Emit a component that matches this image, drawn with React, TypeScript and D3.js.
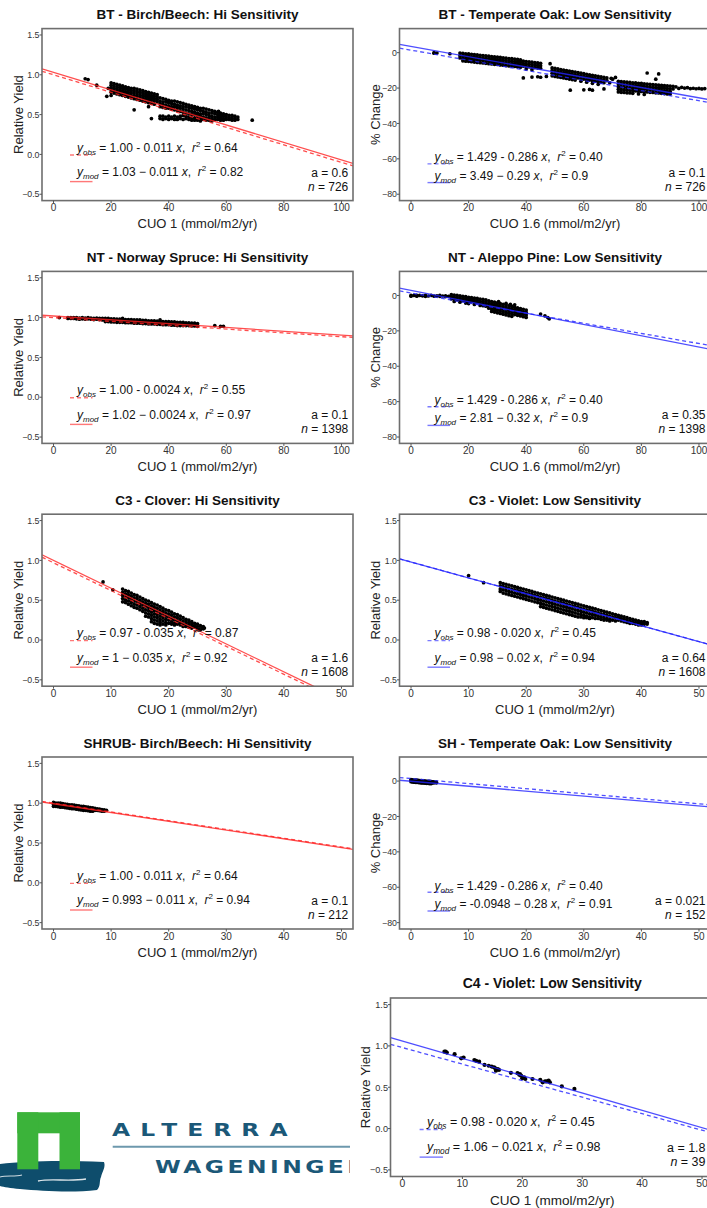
import * as d3 from "d3";
import {useEffect, useRef} from "react";

const WIDTH = 707;
const HEIGHT = 1208;
const FONT = "'Liberation Sans', Arial, Helvetica, sans-serif";
const RED = "#ff2020";
const BLUE = "#2222ff";

// one entry per panel, reading order (left/right, top to bottom)
const titles = [
    "BT - Birch/Beech: Hi Sensitivity",
    "BT - Temperate Oak: Low Sensitivity",
    "NT - Norway Spruce: Hi Sensitivity",
    "NT - Aleppo Pine: Low Sensitivity",
    "C3 - Clover: Hi Sensitivity",
    "C3 - Violet: Low Sensitivity",
    "SHRUB- Birch/Beech: Hi Sensitivity",
    "SH - Temperate Oak: Low Sensitivity",
    "C4 - Violet: Low Sensitivity",
];
const kinds = ["yield", "pct", "yield", "pct", "yield", "yield", "yield", "pct", "yield"];
const lineColors = ["red", "blue", "red", "blue", "red", "blue", "red", "blue", "blue"];
const xMax = [100, 100, 100, 100, 50, 50, 50, 50, 50];

const obsA = [1.00, 1.429, 1.00, 1.429, 0.97, 0.98, 1.00, 1.429, 0.98];
const obsB = [-0.011, -0.286, -0.0024, -0.286, -0.035, -0.020, -0.011, -0.286, -0.020];
const modA = [1.03, 3.49, 1.02, 2.81, 1.0, 0.98, 0.993, -0.0948, 1.06];
const modB = [-0.011, -0.29, -0.0024, -0.32, -0.035, -0.02, -0.011, -0.28, -0.021];

const obsLabel = ["1.00 - 0.011", "1.429 - 0.286", "1.00 - 0.0024", "1.429 - 0.286", "0.97 - 0.035",
    "0.98 - 0.020", "1.00 - 0.011", "1.429 - 0.286", "0.98 - 0.020"];
const modLabel = ["1.03 \u2212 0.011", "3.49 \u2212 0.29", "1.02 \u2212 0.0024", "2.81 \u2212 0.32", "1 \u2212 0.035",
    "0.98 \u2212 0.02", "0.993 \u2212 0.011", "-0.0948 \u2212 0.28", "1.06 \u2212 0.021"];
const r2Obs = ["0.64", "0.40", "0.55", "0.40", "0.87", "0.45", "0.64", "0.40", "0.45"];
const r2Mod = ["0.82", "0.9", "0.97", "0.9", "0.92", "0.94", "0.94", "0.91", "0.98"];
const aLabel = ["0.6", "0.1", "0.1", "0.35", "1.6", "0.64", "0.1", "0.021", "1.8"];
const nLabel = ["726", "726", "1398", "1398", "1608", "1608", "212", "152", "39"];

const yieldTicks = [-0.5, 0, 0.5, 1, 1.5];
const pctTicks = [-80, -60, -40, -20, 0];
const xTicks100 = [0, 20, 40, 60, 80, 100];
const xTicks50 = [0, 10, 20, 30, 40, 50];

// scatter clouds: "x:y,y,y;x:y..."
const cloudBirchBT =
    "11:.95;12:.94;15:.87;19:.83;18.5:.73;28:.56;33:.60;34:.45;39.5:.66;57.3:.54;69:.43;" +
    "20:.90,.87,.84,.81,.78,.74;21:.89,.86,.83,.80,.77;22:.88,.85,.82,.79,.76;23:.87,.84,.81,.78,.75;" +
    "24:.86,.83,.80,.77,.74;25:.85,.82,.79,.76,.73;26:.84,.81,.78,.75,.72;27:.83,.80,.77,.74,.71;" +
    "28:.83,.80,.77,.74,.70;29:.82,.79,.76,.73,.69;30:.81,.78,.75,.72,.68;31:.80,.77,.74,.71,.67;" +
    "32:.79,.76,.73,.70,.66;33:.78,.75,.72,.69,.65;34:.77,.74,.71,.68,.64;35:.76,.73,.70,.67,.63;36:.75,.72,.69,.66;" +
    "37:.71,.67,.64,.60,.48,.45;38:.70,.66,.63,.59,.48,.44;39:.69,.66,.62,.58,.47,.45;40:.68,.65,.61,.58,.48,.44;" +
    "41:.67,.64,.60,.57,.47,.45;42:.67,.63,.60,.56,.48,.44;43:.66,.62,.59,.55,.47,.44;44:.65,.61,.58,.54,.48,.45;" +
    "45:.64,.60,.57,.53,.49,.44;46:.63,.60,.56,.52,.48,.45;47:.62,.59,.55,.51,.47,.44;48:.61,.58,.54,.50,.46,.43;" +
    "49:.60,.57,.53,.50,.46,.43;50:.59,.56,.52,.49,.45,.43;51:.58,.55,.51,.48,.45,.42;52:.58,.54,.51,.47,.44;" +
    "53:.57,.53,.50,.46,.43;54:.56,.52,.49,.46,.43;55:.55,.52,.48,.45,.42;56:.54,.51,.47,.44;57:.53,.50,.47,.44;" +
    "58:.52,.49,.46,.43;59:.51,.48,.45,.43;60:.50,.47,.44;61:.49,.46,.44;62:.49,.46,.43;63:.48,.45,.43;64:.47,.44";

const cloudOakBT =
    "8:0,-0.3;9:-0.2;13.5:-0.6;39:-14.3;42:-13.8;44:-13.6;45:-13.9;47:-13.4;48.3:-6.2;55.3:-21.2;60:-21;" +
    "62:-20.8;63:-21.2;67:-20.5;69:-17;82:-11.5;85:-15;86:-12;69.5:-14.5;70:-15;71:-14;" +
    "17:-0.2,-1.6,-3.0;18:-0.4,-1.8,-3.2,-4.6;19:-0.6,-2.0,-3.4,-4.8;20:-0.7,-2.1,-3.5,-4.9;21:-0.9,-2.3,-3.7,-5.1;" +
    "22:-1.1,-2.5,-3.9,-5.3;23:-1.3,-2.7,-4.1,-5.5;24:-1.5,-2.9,-4.3,-5.7;25:-1.6,-3.0,-4.4,-5.8;" +
    "26:-1.8,-3.2,-4.6,-6.0;27:-2.0,-3.4,-4.8,-6.2;28:-2.2,-3.6,-5.0,-6.4;29:-2.4,-3.8,-5.2,-6.6;" +
    "30:-2.5,-3.9,-5.3,-6.7;31:-2.7,-4.1,-5.5,-6.9;32:-2.9,-4.3,-5.7,-7.1;33:-3.1,-4.5,-5.9,-7.3;" +
    "34:-3.3,-4.7,-6.1,-7.5;35:-3.4,-4.8,-6.2,-7.6;36:-3.6,-5.0,-6.4,-7.8;37:-3.8,-5.2,-6.6,-8.0;" +
    "38:-4.0,-5.4,-6.8,-8.2;39:-4.8,-6.2,-7.6;40:-5.0,-6.4,-7.8,-9.2;41:-5.2,-6.6,-8.0;42:-5.4,-6.8,-8.2,-9.6;" +
    "43:-5.6,-7.0,-8.4;44:-5.8,-7.2,-8.6;45:-6.0,-7.4,-8.8;" +
    "49:-8.6,-10.1,-11.6,-13.1;50:-8.9,-10.4,-11.9,-13.4;51:-9.2,-10.7,-12.2,-13.7;52:-9.5,-11.0,-12.5,-14.0;" +
    "53:-9.8,-11.3,-12.8,-14.3;54:-10.1,-11.6,-13.1,-14.6;55:-10.4,-11.9,-13.4,-14.9;56:-10.7,-12.2,-13.7,-15.2;" +
    "57:-11.0,-12.5,-14.0,-15.5;58:-11.3,-12.8,-14.3;59:-11.6,-13.1,-14.6,-16.1;60:-11.9,-13.4,-14.9;" +
    "61:-12.2,-13.7,-15.2,-16.7;62:-12.5,-14.0,-15.5;63:-12.8,-14.3,-15.8,-17.3;64:-13.1,-14.6,-16.1;" +
    "65:-13.4,-14.9,-16.4,-17.9;66:-13.7,-15.2,-16.7;67:-14.0,-15.5,-17.0;68:-14.3,-15.8;" +
    "72:-16.2,-17.7,-19.2,-20.7,-22.2;73:-16.4,-17.9,-19.4,-20.9,-22.4;74:-16.5,-18.0,-19.5,-21.0,-22.5;" +
    "75:-16.7,-18.2,-19.7,-21.2,-22.7;76:-16.8,-18.3,-19.8,-21.3,-22.8;77:-17.0,-18.5,-20.0,-21.5,-23.0;" +
    "78:-17.1,-18.6,-20.1,-21.6;79:-17.3,-18.8,-20.3,-21.8,-23.3;80:-17.4,-18.9,-20.4,-21.9;" +
    "81:-17.6,-19.1,-20.6,-22.1,-23.6;82:-17.7,-19.2,-20.7,-22.2;83:-17.9,-19.4,-20.9,-22.4;" +
    "84:-18.0,-19.5,-21.0,-22.5;85:-18.2,-19.7,-21.2,-22.7;86:-18.3,-19.8,-21.3,-22.8;87:-18.5,-20.0,-21.5,-23.0;" +
    "88:-18.6,-20.1,-21.6,-23.1;89:-18.8,-20.3,-21.8,-23.3;90:-18.9,-20.4,-21.9,-23.4;91:-19.0,-20.5;" +
    "92:-19.3;93:-20.2;94:-19.6;95:-20.0;96:-19.8;97:-20.3;98:-20.1;99:-20.4;100:-20.2;101:-20.5;102:-20.3";

const cloudSpruceNT =
    "2:1.00;5:1.00,.99;6:1.00,.99;7:1.00,.99;8:1.00,.985;9:.995,.98;10:1.00,.985;11:.995,.98;12:1.00,.985;" +
    "13:.995,.98;14:.99,.975;15:.995,.98;16:.99,.975;17:.99,.97;18:.99,.97,.95;19:.99,.97,.95;20:.985,.965,.945;" +
    "21:.985,.965,.945;22:.98,.96,.94;23:.98,.96,.94;24:.98,.96,.94,.99;25:.975,.955,.935;26:.975,.955,.935;" +
    "27:.975,.955,.935;28:.97,.95,.93;29:.97,.95,.93;30:.97,.95,.93;31:.965,.945,.925;32:.965,.945,.925;" +
    "33:.96,.94,.92;34:.96,.94,.92;35:.96,.94,.92;36:.955,.935,.915;37:.955,.935,.915,.97;38:.95,.93,.91;" +
    "39:.95,.93,.91;40:.95,.93,.91;41:.945,.925,.905;42:.945,.925,.905;43:.94,.92,.90;44:.94,.92,.90;" +
    "45:.94,.92,.90;46:.935,.915,.90;47:.935,.915,.90;48:.93,.91,.895;49:.93,.91,.895;50:.925,.905,.89;" +
    "56:.90;58:.89;59:.89";

const cloudPineNT =
    "0:0,-0.4;1:0;2:0,-0.4;3:0;4:-0.2;5:0,-0.5;6:-0.3;7:0;8:-0.4;9:-0.2;10:0,-0.5;11:-0.3;12:-0.2,-0.6;13:-0.5;" +
    "14:0.5,-0.7,-1.9;15:0.2,-1.0,-2.2,-3.4;16:0,-1.2,-2.4;17:-0.2,-1.4,-2.6,-3.8;18:-0.5,-1.7,-2.9;" +
    "19:-0.7,-1.9,-3.1,-4.3;20:-1.0,-2.2,-3.4,-4.6;21:-1.2,-2.4,-3.6;22:-1.5,-2.7,-3.9,-5.1;23:-1.7,-2.9,-4.1;" +
    "24:-2.0,-3.2,-4.4,-5.6;25:-2.2,-3.4,-4.6,-5.8;26:-2.5,-3.7,-4.9,-6.1;27:-3.0,-4.4,-5.8,-7.2;" +
    "28:-3.4,-4.8,-6.2,-7.6,-9.0;29:-3.8,-5.2,-6.6,-8.0,-9.4;30:-4.2,-5.6,-7.0,-8.4,-9.8;" +
    "31:-4.6,-6.0,-7.4,-8.8,-10.2;32:-5.0,-6.4,-7.8,-9.2,-10.6;33:-5.4,-6.8,-8.2,-9.6,-11.0;" +
    "34:-5.8,-7.2,-8.6,-10.0,-11.4;35:-6.2,-7.6,-9.0,-10.4,-11.8;36:-6.6,-8.0,-9.4,-10.8;37:-7.0,-8.4,-9.8,-11.2;" +
    "38:-7.4,-8.8,-10.2,-11.6;39:-7.8,-9.2,-10.6,-12.0;40:-8.2,-9.6,-11.0,-12.4;" +
    "30.4:-3.4;33:-4.5;34.5:-5.0;36:-5.3;45:-10.5;46.5:-11.5;47.5:-12.5;48:-13.2";

const cloudCloverC3 =
    "8.6:.73;10.3:.63;" +
    "12:.64,.60,.56,.52,.48;12.5:.62,.58,.54,.50,.47;13:.61,.57,.53,.49,.45;13.5:.59,.55,.51,.47,.43;" +
    "14:.57,.53,.49,.45,.41;14.5:.56,.52,.48,.44,.40;15:.54,.50,.46,.42,.38;15.5:.52,.48,.44,.40,.36;" +
    "16:.50,.46,.42,.38,.34,.30;16.5:.49,.45,.41,.37,.33,.29;17:.47,.43,.39,.35,.31,.27,.23;" +
    "17.5:.45,.41,.37,.33,.29,.25,.21;18:.44,.40,.36,.32,.28,.24,.20;18.5:.42,.38,.34,.30,.26,.22,.19;" +
    "19:.40,.36,.32,.28,.24,.20;19.5:.38,.34,.30,.26,.22,.19;20:.37,.33,.29,.25,.21;20.5:.35,.31,.27,.23,.20;" +
    "21:.33,.29,.25,.21,.19;21.5:.32,.28,.24,.20;22:.30,.26,.22,.19;22.5:.28,.24,.20,.17;23:.26,.23,.20,.17;" +
    "23.5:.25,.22,.19,.16;24:.23,.20,.17,.15;24.5:.21,.18,.16;25:.20,.17,.14;25.5:.18,.15,.13;26:.17,.14;26.2:.15";

const cloudVioletC3 =
    "10:.81;12.6:.72;" +
    "15.5:.72,.68,.64,.61;16:.71,.67,.63,.59;16.5:.70,.66,.62,.58;17:.69,.65,.61,.57;17.5:.68,.64,.60,.56;" +
    "18:.67,.63,.59,.55;18.5:.66,.62,.58,.54;19:.65,.61,.57,.53;19.5:.64,.60,.56,.52;20:.63,.59,.55,.51;" +
    "20.5:.62,.58,.54,.50;21:.61,.57,.53,.49;21.5:.60,.56,.52,.48;22:.59,.55,.51,.47;22.5:.58,.54,.50,.46,.42;" +
    "23:.57,.53,.49,.45,.41;23.5:.56,.52,.48,.44,.40;24:.55,.51,.47,.43,.39;24.5:.54,.50,.46,.42,.38;" +
    "25:.53,.49,.45,.41,.37;25.5:.52,.48,.44,.40,.36;26:.51,.47,.43,.39,.35;26.5:.50,.46,.42,.38,.34;" +
    "27:.49,.45,.41,.37,.33;27.5:.48,.44,.40,.36,.32;28:.47,.43,.39,.35,.31;28.5:.46,.42,.38,.34,.30;" +
    "29:.45,.41,.37,.33,.29;29.5:.44,.40,.36,.32,.29;30:.43,.39,.35,.31,.28;30.5:.42,.38,.34,.30,.28;" +
    "31:.41,.37,.33,.29,.27;31.5:.40,.36,.32,.28;32:.39,.35,.31,.27;32.5:.38,.34,.30,.27;33:.37,.33,.29,.26;" +
    "33.5:.36,.32,.28,.25;34:.35,.31,.27,.25;34.5:.34,.30,.26,.24;35:.33,.29,.25;35.5:.32,.28,.24;" +
    "36:.31,.28,.25;36.5:.30,.27,.24;37:.29,.26,.23;37.5:.28,.25,.22;38:.27,.24,.21;38.5:.26,.23,.21;" +
    "39:.25,.22,.20;39.5:.24,.21,.19;40:.23,.21,.19;40.5:.23,.20;41:.22,.20";

const cloudBirchSH =
    "0:1.01,.985,.96;0.4:1.00,.98,.96;0.8:1.00,.975,.955;1.2:1.00,.975,.95;1.6:.995,.97,.95;2:.99,.965,.945;" +
    "2.4:.985,.96,.94;2.8:.98,.96,.935;3.2:.98,.955,.93;3.6:.975,.95,.93;4:.97,.945,.925;4.4:.965,.94,.92;" +
    "4.8:.96,.94,.915;5.2:.96,.935,.91;5.6:.955,.93,.91;6:.95,.925,.905;6.4:.945,.92,.90;6.8:.94,.915,.90;" +
    "7.2:.935,.91;7.6:.93,.91;8:.925,.905;8.4:.92,.90;8.8:.915,.90;9.2:.91";

const cloudOakSH =
    "0:.8,.2,-.4;0.25:.7,.1,-.5;0.5:.6,0,-.6;0.75:.5,-.1,-.7;1:.5,-.1,-.7;1.25:.4,-.2,-.8;1.5:.3,-.3,-.9;" +
    "1.75:.2,-.4,-1.0;2:.1,-.5,-1.1;2.25:.1,-.5,-1.1;2.5:0,-.6,-1.2;2.75:-.1,-.7,-1.3;3:-.2,-.8,-1.3;" +
    "3.25:-.2,-.8,-1.4;3.5:-.3,-.9,-1.4;3.75:-.4,-1.0;4:-.4,-1.0;4.4:-.6,-1.0";

const cloudVioletC4 =
    "7.0:.93;7.2:.93;7.4:.92;8.7:.90;9.8:.85;10.2:.86;12.0:.83;12.3:.82;12.8:.81;13.7:.77;14.4:.76;14.9:.75;" +
    "15.3:.74;15.5:.73;15.6:.70;15.9:.72;16.1:.71;18.1:.675;19.2:.67;19.5:.65;19.6:.66;19.8:.64;20.0:.61;" +
    "20.3:.62;20.5:.60;21.7:.60;23.0:.59;23.4:.56;23.8:.57;24.1:.57;24.4:.58;24.6:.56;26.6:.51;28.7:.48";

const clouds = [cloudBirchBT, cloudOakBT, cloudSpruceNT, cloudPineNT, cloudCloverC3,
    cloudVioletC3, cloudBirchSH, cloudOakSH, cloudVioletC4];

const parseCloud = (s: string): [number, number][] =>
    s.split(";").filter(Boolean).flatMap(seg => {
        const [x, ys] = seg.split(":");
        return ys.split(",").map(y => [+x, +y] as [number, number]);
    });

// frame of every panel; the C4 panel is a slightly larger picture
function panelBox(i: number) {
    if (i === 8) return {x: 390.5, y: 998, w: 323.5, h: 178.5, s: 1.04};
    const col = i % 2;
    const row = Math.floor(i / 2);
    return {x: col ? 399.5 : 42, y: 28.6 + row * 242.8, w: 311, h: 172, s: 1};
}

function drawPanel(svg: any, i: number) {
    const b = panelBox(i);
    const s = b.s;
    const pct = kinds[i] === "pct";
    const color = lineColors[i] === "red" ? RED : BLUE;
    const dom = [-xMax[i] * 0.04, xMax[i] * 1.04];

    const x = d3.scaleLinear().domain(dom).range([b.x, b.x + b.w]);
    const y = d3.scaleLinear().domain(pct ? [-83.6, 13.6] : [-0.58, 1.58]).range([b.y + b.h, b.y]);

    const g = svg.append("g").style("font-family", FONT);
    const clipId = `clip${i}`;
    g.append("clipPath").attr("id", clipId)
        .append("rect").attr("x", b.x).attr("y", b.y).attr("width", b.w).attr("height", b.h);
    const plot = g.append("g").attr("clip-path", `url(#${clipId})`);

    plot.selectAll("circle")
        .data(parseCloud(clouds[i]))
        .join("circle")
        .attr("cx", d => x(d[0]))
        .attr("cy", d => y(d[1]))
        .attr("r", i === 8 ? 2.1 : 1.85)
        .attr("fill", "#000");

    const line = d3.line<[number, number]>().x(d => x(d[0])).y(d => y(d[1]));
    const fit = (a: number, k: number) => dom.map(v => [v, a + k * v] as [number, number]);

    plot.append("path")
        .attr("d", line(fit(obsA[i], obsB[i])))
        .attr("fill", "none").attr("stroke", color).attr("stroke-width", 1.3)
        .attr("stroke-dasharray", "4,3").attr("opacity", 0.8);
    plot.append("path")
        .attr("d", line(fit(modA[i], modB[i])))
        .attr("fill", "none").attr("stroke", color).attr("stroke-width", 1.3).attr("opacity", 0.8);

    // frame
    g.append("rect")
        .attr("x", b.x).attr("y", b.y).attr("width", b.w).attr("height", b.h)
        .attr("fill", "none").attr("stroke", "#6e6e6e").attr("stroke-width", 1.6);

    // y axis
    const yTicks = pct ? pctTicks : yieldTicks;
    const yFmt = pct ? d3.format("d") : d3.format(".1f");
    yTicks.forEach(t => {
        g.append("line").attr("x1", b.x - 2.5).attr("x2", b.x).attr("y1", y(t)).attr("y2", y(t))
            .attr("stroke", "#555").attr("stroke-width", 1);
        g.append("text").attr("x", b.x - 2.5).attr("y", y(t) + 3.2 * s)
            .attr("text-anchor", "end").attr("font-size", 8.8 * s).attr("fill", "#333")
            .text(yFmt(t));
    });

    // x axis
    const xTicks = xMax[i] === 100 ? xTicks100 : xTicks50;
    xTicks.forEach(t => {
        g.append("line").attr("x1", x(t)).attr("x2", x(t)).attr("y1", b.y + b.h).attr("y2", b.y + b.h + 2.5)
            .attr("stroke", "#555").attr("stroke-width", 1);
        g.append("text").attr("x", x(t)).attr("y", b.y + b.h + 10.5 * s)
            .attr("text-anchor", "middle").attr("font-size", 10 * s).attr("fill", "#333")
            .text(t);
    });

    // titles
    g.append("text").attr("x", b.x + b.w / 2).attr("y", b.y - 9.3 * s)
        .attr("text-anchor", "middle").attr("font-size", 13.5 * s).attr("font-weight", "bold")
        .attr("fill", "#111").text(titles[i]);
    g.append("text").attr("x", b.x + b.w / 2).attr("y", b.y + b.h + 27.5 * s)
        .attr("text-anchor", "middle").attr("font-size", 13 * s).attr("fill", "#222")
        .text(pct ? "CUO 1.6 (mmol/m2/yr)" : "CUO 1 (mmol/m2/yr)");
    g.append("text")
        .attr("transform", `translate(${b.x - 19.5 * s},${b.y + b.h / 2}) rotate(-90)`)
        .attr("text-anchor", "middle").attr("font-size", 13 * s).attr("fill", "#222")
        .text(pct ? "% Change" : "Relative Yield");

    // legend
    const t1 = (pct ? 132.7 : 122.9) * s;
    const t2 = (pct ? 151 : 147.3) * s;
    const l1 = (pct ? 135.3 : 126.4) * s;
    const l2 = (pct ? 154 : 153) * s;
    const lx0 = b.x + 28 * s;
    const lx1 = b.x + 50.5 * s;
    g.append("line").attr("x1", lx0).attr("x2", lx1).attr("y1", b.y + l1).attr("y2", b.y + l1)
        .attr("stroke", color).attr("stroke-width", 1.4).attr("stroke-dasharray", "4,3").attr("opacity", 0.6);
    g.append("line").attr("x1", lx0).attr("x2", lx1).attr("y1", b.y + l2).attr("y2", b.y + l2)
        .attr("stroke", color).attr("stroke-width", 1.4).attr("opacity", 0.6);

    const eq = (ty: number, sub: string, body: string, r2: string) => {
        const t = g.append("text").attr("x", b.x + 35 * s).attr("y", b.y + ty)
            .attr("font-size", 12 * s).attr("fill", "#111").style("white-space", "pre");
        t.append("tspan").attr("font-style", "italic").text("y");
        t.append("tspan").attr("font-style", "italic").attr("font-size", 8 * s).attr("dy", 3 * s).text(sub);
        t.append("tspan").attr("dy", -3 * s).text(` = ${body} `);
        t.append("tspan").attr("font-style", "italic").text("x");
        t.append("tspan").text(",  ");
        t.append("tspan").attr("font-style", "italic").text("r");
        t.append("tspan").attr("font-size", 8 * s).attr("dy", -5 * s).text("2");
        t.append("tspan").attr("dy", 5 * s).text(` = ${r2}`);
    };
    eq(t1, "obs", obsLabel[i], r2Obs[i]);
    eq(t2, "mod", modLabel[i], r2Mod[i]);

    // keep the a / n notes inside the page
    const ax = Math.min(b.x + b.w - 4.7 * s, WIDTH - 1.5);
    g.append("text").attr("x", ax).attr("y", b.y + 148 * s).attr("text-anchor", "end")
        .attr("font-size", 12 * s).attr("fill", "#111").style("white-space", "pre")
        .text(`a = ${aLabel[i]}`);
    const nt = g.append("text").attr("x", ax).attr("y", b.y + 162 * s).attr("text-anchor", "end")
        .attr("font-size", 12 * s).attr("fill", "#111").style("white-space", "pre");
    nt.append("tspan").attr("font-style", "italic").text("n");
    nt.append("tspan").text(` = ${nLabel[i]}`);
}

function drawLogo(svg: any) {
    const g = svg.append("g");
    g.append("clipPath").attr("id", "logoClip")
        .append("rect").attr("x", 0).attr("y", 1090).attr("width", 350).attr("height", 118);
    const lg = g.append("g").attr("clip-path", "url(#logoClip)");

    // brush stroke
    lg.append("path")
        .attr("d", "M0,1164 C25,1161 60,1160 104,1162 C106,1167 102,1172 101,1177 C99,1181 101,1186 97,1190 " +
            "C72,1193 42,1191 20,1189 C10,1188 4,1187 0,1186 Z")
        .attr("fill", "#0e4d6c");
    lg.append("path").attr("d", "M38,1181 C52,1178 68,1182 86,1179")
        .attr("fill", "none").attr("stroke", "#fff").attr("stroke-width", 1.3).attr("opacity", 0.85);
    lg.append("path").attr("d", "M0,1177 C7,1175 14,1177 22,1175")
        .attr("fill", "none").attr("stroke", "#fff").attr("stroke-width", 1.2).attr("opacity", 0.8);

    // green gate
    const green = "#3bb33a";
    lg.append("rect").attr("x", 17.3).attr("y", 1112.3).attr("width", 62.7).attr("height", 21).attr("fill", green);
    lg.append("rect").attr("x", 17.3).attr("y", 1112.3).attr("width", 21).attr("height", 57).attr("fill", green);
    lg.append("rect").attr("x", 59.5).attr("y", 1112.3).attr("width", 20.5).attr("height", 57).attr("fill", green);

    lg.append("text")
        .attr("transform", "translate(112,1136) scale(1.3,1)")
        .attr("font-family", "'DejaVu Sans', sans-serif").attr("font-weight", "bold").attr("font-size", 18)
        .attr("fill", "#1b5878").attr("textLength", 135).attr("lengthAdjust", "spacing")
        .text("ALTERRA");
    lg.append("line").attr("x1", 112.7).attr("x2", 350).attr("y1", 1146.7).attr("y2", 1146.7)
        .attr("stroke", "#6d98ad").attr("stroke-width", 2);
    lg.append("text")
        .attr("transform", "translate(155,1173.3) scale(1.3,1)")
        .attr("font-family", "'DejaVu Sans', sans-serif").attr("font-weight", "bold").attr("font-size", 18)
        .attr("fill", "#1b5878").attr("textLength", 163).attr("lengthAdjust", "spacing")
        .text("WAGENINGEN");
}

const App = () => {
    const ref = useRef<SVGSVGElement>(null);

    useEffect(() => {
        const svg = d3.select(ref.current);
        svg.selectAll("*").remove();
        svg.append("rect").attr("width", WIDTH).attr("height", HEIGHT).attr("fill", "#fff");
        titles.forEach((_, i) => drawPanel(svg, i));
        drawLogo(svg);
    }, []);

    return (
        <svg ref={ref} width={WIDTH} height={HEIGHT}
             style={{position: "absolute", left: 0, top: 0, fontFamily: FONT}}/>
    );
};

export default App;
